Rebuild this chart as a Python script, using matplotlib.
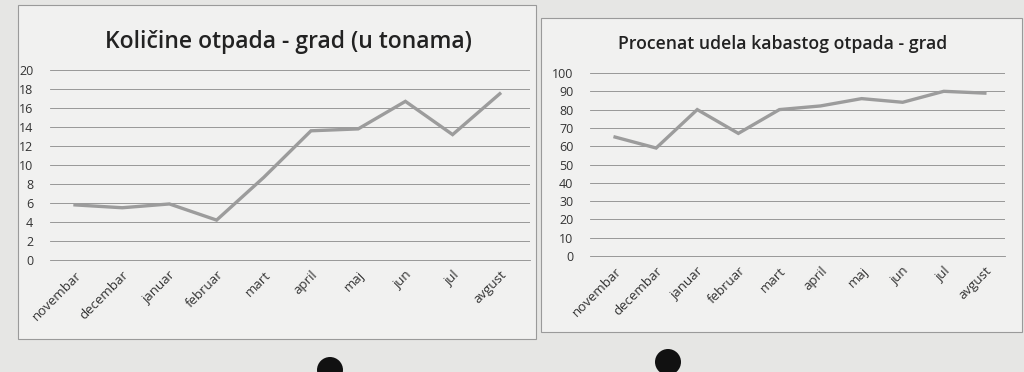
import matplotlib
matplotlib.use('Agg')
import matplotlib.pyplot as plt
from matplotlib.patches import Rectangle, Ellipse

# mjeseci i vrijednosti procitane sa slike
meseci = ['novembar', 'decembar', 'januar', 'februar', 'mart',
          'april', 'maj', 'jun', 'jul', 'avgust']
kolicine = [5.8, 5.5, 5.9, 4.2, 8.7, 13.6, 13.8, 16.7, 13.2, 17.5]
procenat = [65, 59, 80, 67, 80, 82, 86, 84, 90, 89]

plt.rcParams['font.family'] = ['Open Sans', 'DejaVu Sans']
W, H = 1024, 372
fig = plt.figure(figsize=(W / 100, H / 100), dpi=100)
fig.patch.set_facecolor('#e6e6e4')

def box(x0, y0, x1, y1):
    fig.patches.append(Rectangle((x0 / W, 1 - y1 / H), (x1 - x0) / W, (y1 - y0) / H,
                                 transform=fig.transFigure, facecolor='#f1f1f0',
                                 edgecolor='#9a9a9a', lw=0.8, zorder=-5))

box(18, 5, 536, 339)
box(541, 18, 1022, 332)

# crne tacke na dnu (rupe)
for cx, cy in [(330, 370), (668, 362)]:
    fig.patches.append(Ellipse((cx / W, 1 - cy / H), 26 / W, 26 / H, transform=fig.transFigure,
                               facecolor='#111111', edgecolor='none', zorder=-4))

def panel(rect, vals, ymax, step, xlim, title, tsize, title_xy):
    ax = fig.add_axes(rect)
    ax.set_zorder(2)
    ax.set_facecolor('none')
    x = range(len(vals))
    ax.plot(x, vals, color='#9c9c9c', lw=2.4, solid_joinstyle='miter', zorder=3)
    ax.set_ylim(0, ymax)
    ax.set_yticks(range(0, ymax + 1, step))
    ax.set_xlim(*xlim)
    ax.set_xticks(list(x))
    ax.set_xticklabels(meseci, rotation=45, ha='right', rotation_mode='anchor',
                       fontsize=9.5, color='#333333')
    ax.tick_params(axis='y', labelsize=9, labelcolor='#333333', length=0, pad=12)
    ax.tick_params(axis='x', length=0, pad=6)
    ax.grid(axis='y', color='#8a8a8a', lw=0.6)
    ax.axhline(0, color='#8a8a8a', lw=0.6, zorder=1, clip_on=False)
    ax.set_axisbelow(True)
    for s in ax.spines.values():
        s.set_visible(False)
    fig.text(title_xy[0], title_xy[1], title, ha='center', va='center',
             fontsize=tsize, color='#222222', fontweight='semibold')
    return ax

panel([50 / W, 1 - 260 / H, 480 / W, 190 / H], kolicine, 20, 2, (-0.53, 9.64),
      'Količine otpada - grad (u tonama)', 16.5, (288 / W, 1 - 42 / H))
panel([590 / W, 1 - 256 / H, 415 / W, 183 / H], procenat, 100, 10, (-0.61, 9.49),
      'Procenat udela kabastog otpada - grad', 12.7, (783 / W, 1 - 44 / H))

fig.savefig('out.png', dpi=100, facecolor=fig.get_facecolor())
